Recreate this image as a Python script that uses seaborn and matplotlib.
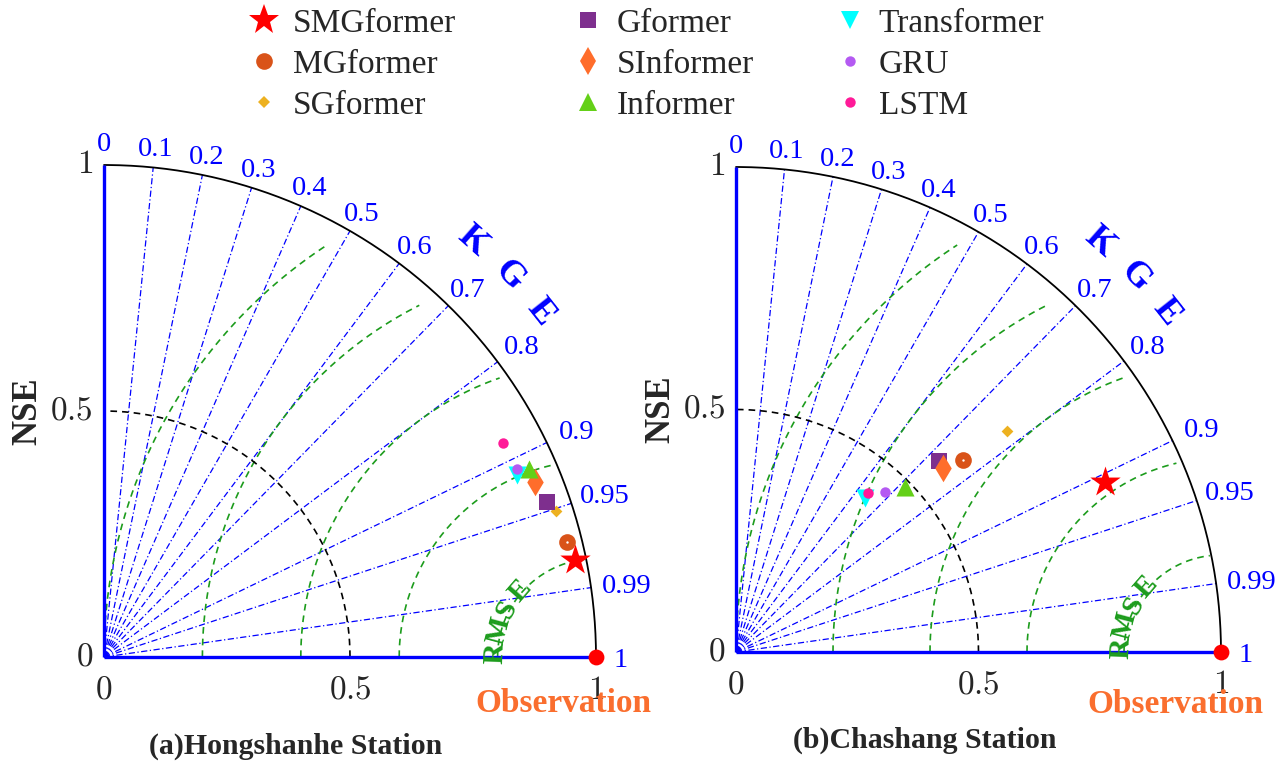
import numpy as np
import matplotlib
matplotlib.use("Agg")
import matplotlib.pyplot as plt
from matplotlib.lines import Line2D
import seaborn as sns

# ---------------- data ----------------
models = ["SMGformer", "MGformer", "SGformer", "Gformer", "SInformer",
          "Informer", "Transformer", "GRU", "LSTM"]
hongshanhe_x = [0.957, 0.941, 0.919, 0.900, 0.876, 0.864, 0.839, 0.839, 0.811]
hongshanhe_y = [0.197, 0.234, 0.297, 0.315, 0.356, 0.382, 0.370, 0.382, 0.435]
chashang_x = [0.761, 0.468, 0.559, 0.419, 0.427, 0.348, 0.266, 0.307, 0.272]
chashang_y = [0.351, 0.396, 0.456, 0.394, 0.379, 0.340, 0.318, 0.330, 0.328]
kge_ticks = [0, 0.1, 0.2, 0.3, 0.4, 0.5, 0.6, 0.7, 0.8, 0.9, 0.95, 0.99, 1]
kge_labels = ["0", "0.1", "0.2", "0.3", "0.4", "0.5", "0.6", "0.7", "0.8",
              "0.9", "0.95", "0.99", "1"]
rmse_levels = [0.2, 0.4, 0.6, 0.8, 1.0]
axis_ticks = [0, 0.5, 1]
axis_tick_labels = ["0", "0.5", "1"]
panel_titles = ["(a)Hongshanhe Station", "(b)Chashang Station"]

# ---------------- style ----------------
colors = ["#ff0000", "#d95319", "#edb120", "#7e2f8e", "#ff6d2b",
          "#64d018", "#00ffff", "#b45af2", "#ff1a98"]
markers = ["*", "o", "D", "s", "d", "^", "v", "o", "o"]
msizes = [23, 12, 6, 11, 14, 13, 13, 7.5, 7.5]
rmse_end_r = [0.997, 0.988, 0.984, 0.96, 0.955]

sns.set_theme(style="white")
plt.rcParams["font.family"] = ["Liberation Serif", "DejaVu Serif"]
plt.rcParams["mathtext.fontset"] = "cm"

W, H = 1286, 771
fig = plt.figure(figsize=(W / 100, H / 100), dpi=100)

XL = (-0.2, 1.2)
YL = (-0.2, 1.05)


def make_axes(ox, oy, s):
    left = (ox + XL[0] * s) / W
    width = (XL[1] - XL[0]) * s / W
    bottom = 1 - (oy - YL[0] * s) / H
    height = (YL[1] - YL[0]) * s / H
    ax = fig.add_axes([left, bottom, width, height])
    ax.set_xlim(*XL)
    ax.set_ylim(*YL)
    ax.axis("off")
    return ax


BLUE = "#0000ff"
GREEN = "#1c9c1c"


def draw_panel(ax, xs, ys, title, obs_pos):
    # radial KGE lines
    for c in kge_ticks[1:-1]:
        th = np.arccos(c)
        ax.plot([0, np.cos(th)], [0, np.sin(th)], color=BLUE, lw=0.9,
                dashes=(5, 2, 1, 2), zorder=1)
    # RMSE arcs centered at (1, 0)
    for rho, rend in zip(rmse_levels, rmse_end_r):
        cphi = (rend ** 2 - 1 - rho ** 2) / (2 * rho)
        phi_end = np.arccos(np.clip(cphi, -1, 1))
        phi = np.linspace(np.pi, phi_end, 200)
        ax.plot(1 + rho * np.cos(phi), rho * np.sin(phi), color=GREEN,
                lw=1.2, dashes=(4, 3), zorder=1)
    # black dashed reference circle r=0.5
    t = np.linspace(0, np.pi / 2, 200)
    ax.plot(0.5 * np.cos(t), 0.5 * np.sin(t), color="black", lw=1.2,
            dashes=(4, 3), zorder=1)
    # outer arc
    ax.plot(np.cos(t), np.sin(t), color="black", lw=1.3, zorder=2)
    # axes lines
    ax.plot([0, 0], [0, 1], color=BLUE, lw=2.4, zorder=3, solid_capstyle="butt")
    ax.plot([0, 1], [0, 0], color=BLUE, lw=2.4, zorder=3, solid_capstyle="butt")
    # KGE tick labels
    for c, lab in zip(kge_ticks, kge_labels):
        th = np.arccos(c)
        r = 1.045 + (0.03 * np.cos(th) ** 3 if len(lab) > 1 else 0.005)
        ax.text(r * np.cos(th), r * np.sin(th) - 0.008, lab, color=BLUE,
                fontsize=20.5, ha="center", va="center")
    # KGE letters
    for letter, ang in zip(["K", "G", "E"], [48.5, 43.3, 38.3]):
        a = np.deg2rad(ang)
        ax.text(1.13 * np.cos(a), 1.13 * np.sin(a), letter, color=BLUE,
                fontsize=26, fontweight="bold", ha="center", va="center",
                rotation=ang - 90, rotation_mode="anchor")
    # RMSE letters along rho=0.2 arc
    for letter, ang in zip(["R", "M", "S", "E"], [178, 165, 152, 139]):
        a = np.deg2rad(ang)
        ax.text(1 + 0.205 * np.cos(a), 0.205 * np.sin(a), letter, color=GREEN,
                fontsize=21, fontweight="bold", ha="center", va="center",
                rotation=ang - 90, rotation_mode="anchor", zorder=6)
    # axis tick labels (CM digits)
    for v, lab in zip(axis_ticks, axis_tick_labels):
        ax.text(v, -0.068, "$%s$" % lab, fontsize=24, ha="center", va="center")
        ax.text(-0.022, v, "$%s$" % lab, fontsize=24, ha="right", va="center")
    ax.text(-0.155, 0.5, "NSE", fontsize=25, fontweight="bold", rotation=90,
            ha="center", va="center")
    ax.text(obs_pos[0], obs_pos[1], "Observation", fontsize=24,
            fontweight="bold", color="#fa6e2e", ha="center", va="center")
    ax.text(0.39, -0.182, title, fontsize=21.5, fontweight="bold",
            ha="center", va="center")
    # observation point
    sns.scatterplot(x=[1.0], y=[0.0], ax=ax, color="#ff0000", s=130,
                    linewidth=0, zorder=7, legend=False)
    # model points
    for i, m in enumerate(models):
        sns.scatterplot(x=[xs[i]], y=[ys[i]], ax=ax, marker=markers[i],
                        color=colors[i], s=msizes[i] ** 2, linewidth=0,
                        zorder=8 + (5 if i == 0 else i * 0.1), legend=False)
        if m == "MGformer":
            sns.scatterplot(x=[xs[i]], y=[ys[i]], ax=ax, marker="o",
                            color="white", s=3, linewidth=0, zorder=8.2,
                            legend=False)


ax1 = make_axes(104, 657, 492)
draw_panel(ax1, hongshanhe_x, hongshanhe_y, panel_titles[0], (0.933, -0.094))
ax2 = make_axes(736, 652, 485)
draw_panel(ax2, chashang_x, chashang_y, panel_titles[1], (0.905, -0.109))

# legend: three columns
handles = [Line2D([], [], ls="none", marker=markers[i], color=colors[i],
                  markersize=msizes[i], markeredgewidth=0) for i in range(len(models))]
col_x = [264, 588, 850]
for k in range(3):
    idx = list(range(3 * k, 3 * k + 3))
    fig.legend([handles[i] for i in idx], [models[i] for i in idx],
               loc="upper left", bbox_to_anchor=((col_x[k] - 13) / W, 1 - 8 / H),
               frameon=False, fontsize=24, handlelength=0.8, handletextpad=0.45,
               labelspacing=0.32, borderpad=0, borderaxespad=0)

fig.savefig("out.png", dpi=100)
